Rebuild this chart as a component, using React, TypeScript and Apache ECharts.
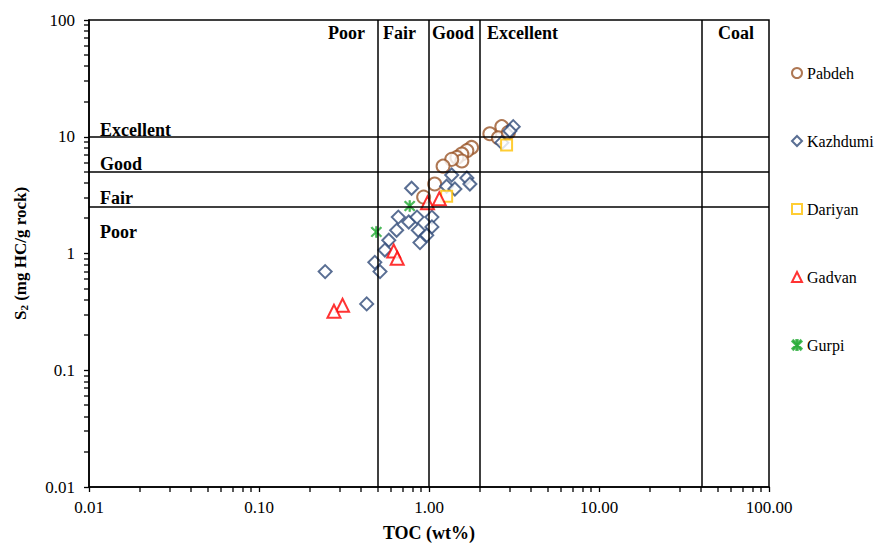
import React, { useEffect, useRef } from "react";
import * as echarts from "echarts";

const pabdeh: [number, number][] = [
  [2.68, 12.2], [2.28, 10.6], [2.56, 9.8], [2.93, 10.9], [1.78, 8.1], [1.67, 7.6],
  [1.56, 7.1], [1.46, 6.65], [1.56, 6.2], [1.36, 6.4], [1.21, 5.6], [1.08, 3.94], [0.93, 3.04],
];
const kazhdumi: [number, number][] = [
  [3.13, 12.2], [2.99, 11.2], [2.68, 8.9], [1.36, 4.7], [1.67, 4.43], [1.74, 3.94],
  [1.27, 3.77], [1.42, 3.57], [0.79, 3.62], [0.66, 2.05], [0.76, 1.86], [0.85, 2.05],
  [1.04, 2.05], [0.645, 1.58], [0.865, 1.58], [1.04, 1.69], [0.97, 1.43], [0.885, 1.24],
  [0.58, 1.3], [0.55, 1.07], [0.48, 0.84], [0.515, 0.7], [0.245, 0.7], [0.43, 0.37],
];
const dariyan: [number, number][] = [[2.86, 8.5], [1.27, 3.1]];
const gadvan: [number, number][] = [
  [0.98, 2.72], [1.15, 2.94], [0.62, 1.05], [0.65, 0.91], [0.31, 0.36], [0.276, 0.32],
];
const gurpi: [number, number][] = [[0.77, 2.55], [0.49, 1.53]];

const seriesNames = ["Pabdeh", "Kazhdumi", "Dariyan", "Gadvan", "Gurpi"];
const xTickLabels = ["0.01", "0.10", "1.00", "10.00", "100.00"];
const yTickLabels = ["0.01", "0.1", "1", "10", "100"];
const tocBoundaries = [0.5, 1, 2, 40];
const s2Boundaries = [10, 5, 2.5];
const topZoneLabels = ["Poor", "Fair", "Good", "Excellent", "Coal"];
const leftZoneLabels = ["Excellent", "Good", "Fair", "Poor"];

const X_MIN = 0.01, X_MAX = 100, Y_MIN = 0.01, Y_MAX = 100;

const minorTicks = (lo: number, hi: number) => {
  const out: number[] = [];
  for (let e = Math.round(Math.log10(lo)); e < Math.round(Math.log10(hi)); e++)
    for (let m = 2; m <= 9; m++) out.push(+(m * Math.pow(10, e)).toPrecision(3));
  return out;
};

const FONT = "Liberation Serif";
const ASTERISK =
  "path://M4.3,0 L5.7,0 L5.7,10 L4.3,10 Z M0.3,1.4 L1.3,0.3 L9.7,8.6 L8.7,9.7 Z M8.7,0.3 L9.7,1.4 L1.3,9.7 L0.3,8.6 Z";

export default function App() {
  const ref = useRef<HTMLDivElement>(null);
  useEffect(() => {
    const chart = echarts.init(ref.current!, null, { renderer: "svg" });
    const topX = [328, 383, 432, 487, 718];
    const leftY = [130.5, 164.5, 199, 232.5];
    const option: any = {
      animation: false,
      backgroundColor: "#fff",
      grid: { left: 89, right: 106, top: 20, bottom: 57, show: true, borderColor: "#000", borderWidth: 1.5 },
      legend: {
        data: seriesNames,
        orient: "vertical",
        left: 786,
        top: 60,
        itemGap: 52,
        itemWidth: 10,
        itemHeight: 10,
        textStyle: { fontFamily: FONT, fontSize: 16, color: "#000", lineHeight: 16 },
      },
      xAxis: {
        type: "log",
        logBase: 10,
        min: X_MIN,
        max: X_MAX,
        name: "TOC (wt%)",
        nameLocation: "middle",
        nameGap: 37,
        nameTextStyle: { fontFamily: FONT, fontSize: 18, fontWeight: "bold", color: "#000" },
        axisLine: { lineStyle: { color: "#000", width: 1.5 } },
        axisTick: { show: true, length: 5, lineStyle: { color: "#000", width: 1.3 } },
        axisLabel: {
          margin: 12,
          fontFamily: FONT,
          fontSize: 17,
          color: "#000",
          formatter: (v: number) => xTickLabels[Math.round(Math.log10(v)) + 2] ?? "",
        },
        splitLine: { show: false },
      },
      yAxis: {
        type: "log",
        logBase: 10,
        min: Y_MIN,
        max: Y_MAX,
        name: "{b|S}{s|2}{b| (mg HC/g rock)}",
        nameLocation: "middle",
        nameGap: 60,
        nameTextStyle: {
          fontFamily: FONT,
          color: "#000",
          rich: {
            b: { fontFamily: FONT, fontSize: 17, fontWeight: "bold", color: "#000", lineHeight: 22, verticalAlign: "bottom" },
            s: { fontFamily: FONT, fontSize: 11, fontWeight: "bold", color: "#000", lineHeight: 18, verticalAlign: "bottom" },
          },
        },
        axisLine: { lineStyle: { color: "#000", width: 1.5 } },
        axisTick: { show: true, length: 5, lineStyle: { color: "#000", width: 1.3 } },
        axisLabel: {
          margin: 14,
          fontFamily: FONT,
          fontSize: 17,
          color: "#000",
          formatter: (v: number) => yTickLabels[Math.round(Math.log10(v)) + 2] ?? "",
        },
        splitLine: { show: false },
      },
      series: [
        {
          name: "zones",
          type: "scatter",
          data: [],
          z: 1,
          silent: true,
          markLine: {
            silent: true,
            symbol: ["none", "none"],
            label: { show: false },
            lineStyle: { color: "#000", width: 1.5, type: "solid" },
            data: [
              ...tocBoundaries.map((v) => ({ xAxis: v })),
              ...s2Boundaries.map((v) => ({ yAxis: v })),
            ],
          },
        },
        {
          name: "xminor",
          type: "custom",
          silent: true,
          clip: false,
          z: 5,
          data: minorTicks(X_MIN, X_MAX).map((v) => [v, Y_MIN]),
          renderItem: (_p: any, api: any) => {
            const p = api.coord([api.value(0), api.value(1)]);
            return {
              type: "rect",
              shape: { x: Math.round(p[0]) - 0.65, y: p[1], width: 1.3, height: 5 },
              style: { fill: "#000" },
            };
          },
        },
        {
          name: "yminor",
          type: "custom",
          silent: true,
          clip: false,
          z: 5,
          data: minorTicks(Y_MIN, Y_MAX).map((v) => [X_MIN, v]),
          renderItem: (_p: any, api: any) => {
            const p = api.coord([api.value(0), api.value(1)]);
            return {
              type: "rect",
              shape: { x: p[0] - 5, y: Math.round(p[1]) - 0.65, width: 5, height: 1.3 },
              style: { fill: "#000" },
            };
          },
        },
        {
          name: "Pabdeh", type: "scatter", data: pabdeh, z: 3,
          symbol: "emptyCircle", symbolSize: 13,
          itemStyle: { color: "#9A5528", borderColor: "#9A5528", borderWidth: 2 },
        },
        {
          name: "Kazhdumi", type: "scatter", data: kazhdumi, z: 3,
          symbol: "emptyDiamond", symbolSize: 13,
          itemStyle: { color: "#2F4A78", borderColor: "#2F4A78", borderWidth: 1.7 },
        },
        {
          name: "Dariyan", type: "scatter", data: dariyan, z: 3,
          symbol: "emptyRect", symbolSize: 11,
          itemStyle: { color: "#FFC000", borderColor: "#FFC000", borderWidth: 2.4 },
        },
        {
          name: "Gadvan", type: "scatter", data: gadvan, z: 3,
          symbol: "emptyTriangle", symbolSize: 13,
          itemStyle: { color: "#FF0000", borderColor: "#FF0000", borderWidth: 2 },
        },
        {
          name: "Gurpi", type: "scatter", data: gurpi, z: 3,
          symbol: ASTERISK, symbolSize: 11,
          itemStyle: { color: "#22AA33", borderColor: "#22AA33", borderWidth: 0.6 },
        },
      ],
      graphic: [
        ...topZoneLabels.map((t, i) => ({
          type: "text", left: topX[i], top: 24, z: 10,
          style: { text: t, font: `bold 18px ${FONT}`, fill: "#000" },
        })),
        ...leftZoneLabels.map((t, i) => ({
          type: "text", left: 100, top: leftY[i] - 10, z: 10,
          style: { text: t, font: `bold 18px ${FONT}`, fill: "#000" },
        })),
      ],
    };
    chart.setOption(option);
    return () => chart.dispose();
  }, []);
  return <div ref={ref} style={{ width: 875, height: 547, position: "absolute", left: 0, top: 0 }} />;
}
